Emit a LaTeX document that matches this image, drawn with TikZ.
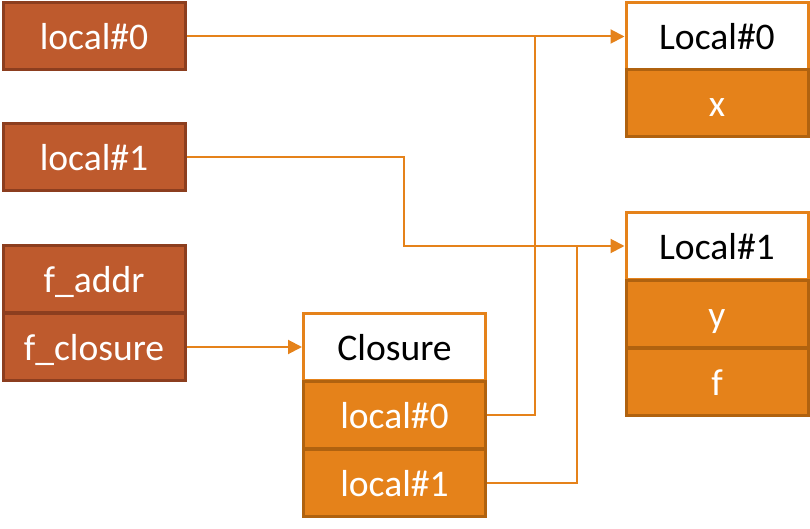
\documentclass[tikz,border=0pt]{standalone}
\usepackage{fontspec}
\setmainfont{Carlito}
\usetikzlibrary{arrows.meta}
\definecolor{rust}{HTML}{BE5A2D}
\definecolor{rustline}{HTML}{8C3E1F}
\definecolor{orng}{HTML}{E5821A}
\definecolor{orngline}{HTML}{B0620F}
\tikzset{
  box/.style={rectangle, minimum width=91pt, minimum height=33.5pt, inner sep=0pt,
    text height=14pt, text depth=0.5pt,
    font=\fontsize{18.8}{22}\selectfont, line width=1.5pt},
  rustbox/.style={box, fill=rust, draw=rustline, text=white},
  headbox/.style={box, fill=white, draw=orng, text=black},
  rowbox/.style={box, fill=orng, draw=orngline, text=white},
  conn/.style={draw=orng, line width=1pt},
  arr/.style={conn, -{Triangle[length=7pt,width=7pt]}}
}
\begin{document}
\begin{tikzpicture}[x=0.5pt,y=-0.5pt]
\useasboundingbox (0,0) rectangle (810,529);
% left stack
\node[rustbox] (l0) at (94,36.5) {local\#0};
\node[rustbox] (l1) at (94,157) {local\#1};
\node[rustbox] (faddr) at (94,279.5) {f\_addr};
\node[rustbox] (fclos) at (94,347) {f\_closure};
% closure
\node[headbox] (chead) at (394.5,347) {Closure};
\node[rowbox] (c0) at (394.5,415) {local\#0};
\node[rowbox] (c1) at (394.5,483) {local\#1};
% Local#0
\node[headbox] (L0) at (717,36.5) {Local\#0};
\node[rowbox] (Lx) at (717,103.5) {x};
% Local#1
\node[headbox] (L1) at (717,246) {Local\#1};
\node[rowbox] (Ly) at (717,314) {y};
\node[rowbox] (Lf) at (717,382) {f};
% junctions
\coordinate (j0) at (535,36.5);
\coordinate (k1) at (404,246);
\coordinate (j1) at (577,246);
% connectors
\draw[arr] (l0.east) -- (L0.west);
\draw[conn] (c0.east) -| (j0);
\draw[arr] (l1.east) -| (k1) -- (L1.west);
\draw[conn] (c1.east) -| (j1);
\draw[arr] (fclos.east) -- (chead.west);
\end{tikzpicture}
\end{document}
